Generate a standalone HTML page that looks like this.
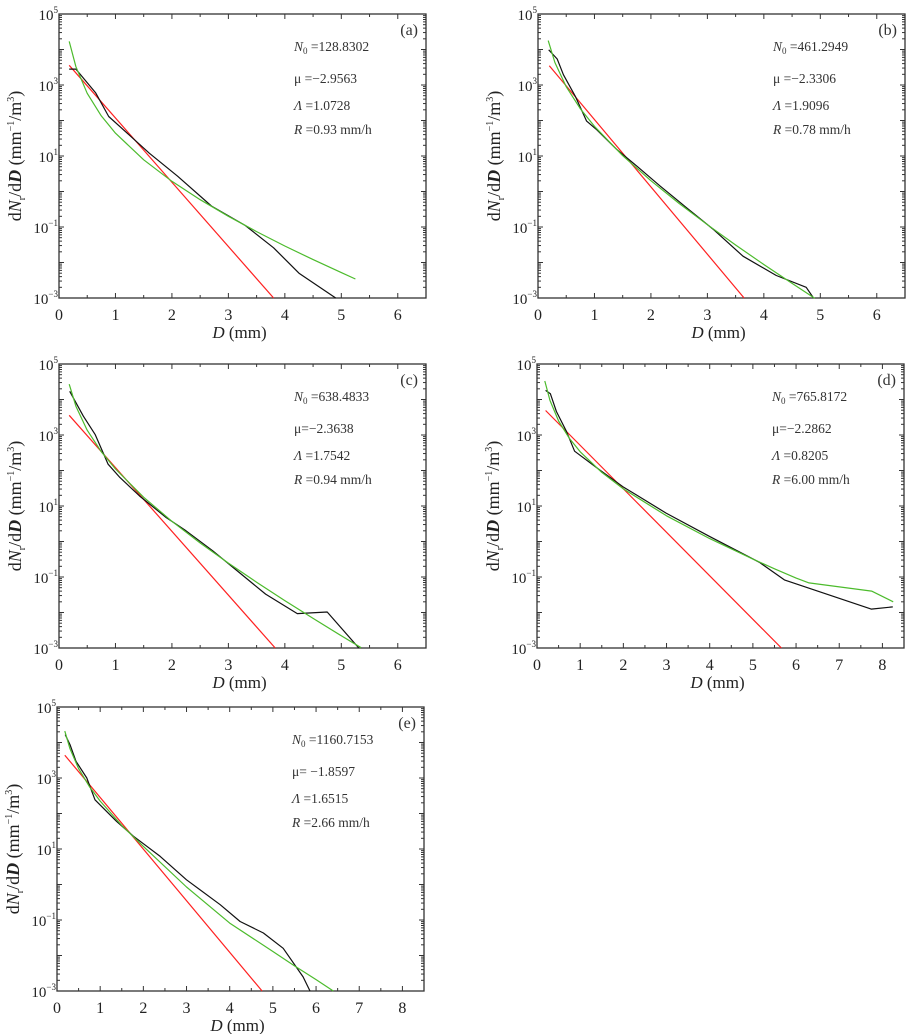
<!DOCTYPE html>
<html><head><meta charset="utf-8"><style>
html,body{margin:0;padding:0;background:#fff;}
svg{display:block;font-family:"Liberation Serif",serif;}
</style></head><body>
<svg id="fig" width="916" height="1034" viewBox="0 0 916 1034" xmlns="http://www.w3.org/2000/svg"></svg>
<script>
// ---- data (panel a) ----
const aObsD=[0.18,0.3,0.65,0.88,1.2,1.6,2.1,2.7,3.3,3.8,4.25,4.9];
const aObsV=[2800,2800,600,130,45,12,2.7,0.39,0.11,0.026,0.005,0.001];
const aGamD=[0.18,0.3,0.5,0.75,1,1.5,2,2.5,3,3.5,4,4.5,5,5.25];
const aGamV=[16900,3280,585,135,44,7.8,1.94,0.586,0.2,0.0743,0.0292,0.0121,0.00518,0.00344];
const aExpD=[0.18,3.8];
const aExpV=[3600,0.001];
// ---- panel b ----
const bObsD=[0.19,0.34,0.45,0.66,0.86,1.04,1.39,1.75,2.16,2.63,3.1,3.63,4.22,4.75,4.88];
const bObsV=[9800,5400,1950,480,96,55,15.5,5.2,1.44,0.35,0.087,0.015,0.0043,0.002,0.001];
const bGamD=[0.18,0.3,0.5,0.75,1,1.5,2,2.5,3,3.5,4,4.5,4.9];
const bGamV=[17800,4300,893,215,68.4,10.2,2.01,0.46,0.116,0.0311,0.00879,0.00257,0.00098];
const bExpD=[0.2,3.65];
const bExpV=[3500,0.001];
// ---- panel c ----
const cObsD=[0.19,0.43,0.64,0.87,1.08,1.43,1.9,2.25,2.72,3.19,3.66,4.22,4.75,5.31];
const cObsV=[17000,3400,1040,150,63,19,4.7,2.0,0.55,0.135,0.033,0.0093,0.0103,0.001];
const cGamD=[0.18,0.3,0.5,0.75,1,1.5,2,2.5,3,3.5,4,4.5,5,5.35];
const cGamV=[26900,6490,1365,338,110,17.6,3.71,0.91,0.247,0.0713,0.0216,0.0068,0.0022,0.00102];
const cExpD=[0.18,3.83];
const cExpV=[3600,0.001];
// ---- panel d ----
const dObsD=[0.2,0.31,0.45,0.68,0.87,1.45,1.99,2.99,3.99,5.15,5.73,7.74,8.24];
const dObsV=[18000,14500,4600,1270,350,104,35,6.3,1.4,0.26,0.083,0.0125,0.0144];
const dGamD=[0.18,0.3,0.5,0.75,1,1.5,2,3,4,5,5.5,6,6.3,7.75,8.25];
const dGamV=[33300,9400,2480,800,337,88.5,30.4,5.3,1.21,0.319,0.17,0.093,0.068,0.04,0.02];
const dExpD=[0.2,5.66];
const dExpV=[4900,0.001];
// ---- panel e ----
const eObsD=[0.19,0.3,0.44,0.69,0.88,1.38,1.77,2.39,3.0,3.78,4.24,4.78,5.24,5.7,5.86];
const eObsV=[16700,8700,2950,1000,243,60,23,6.2,1.36,0.27,0.091,0.043,0.016,0.0025,0.001];
const eGamD=[0.18,0.3,0.5,0.75,1,1.5,2,3,4,5,5.5,6,6.4];
const eGamV=[21000,6640,1845,574,223,46,11.8,0.85,0.082,0.013,0.0051,0.0021,0.001];
const eExpD=[0.18,4.75];
const eExpV=[4400,0.001];
const xTicksA=[0,1,2,3,4,5,6];
const xTicksB=[0,1,2,3,4,5,6,7,8];
const yTickExp=[5,3,1,-1,-3];

const NS="http://www.w3.org/2000/svg";
const svg=document.getElementById('fig');
function mk(tag,attrs,parent){const e=document.createElementNS(NS,tag);for(const k in attrs)e.setAttribute(k,attrs[k]);(parent||svg).appendChild(e);return e;}

const panels=[
 {id:'a',x0:59,y0:14,xMax:6.5,ticks:xTicksA,obsD:aObsD,obsV:aObsV,gamD:aGamD,gamV:aGamV,expD:aExpD,expV:aExpV,
  t:['=128.8302','μ =−2.9563','=1.0728','=0.93  mm/h']},
 {id:'b',x0:538,y0:14,xMax:6.5,ticks:xTicksA,obsD:bObsD,obsV:bObsV,gamD:bGamD,gamV:bGamV,expD:bExpD,expV:bExpV,
  t:['=461.2949','μ =−2.3306','=1.9096','=0.78  mm/h']},
 {id:'c',x0:59,y0:364,xMax:6.5,ticks:xTicksA,obsD:cObsD,obsV:cObsV,gamD:cGamD,gamV:cGamV,expD:cExpD,expV:cExpV,
  t:['=638.4833','μ=−2.3638','=1.7542','=0.94 mm/h']},
 {id:'d',x0:537,y0:364,xMax:8.5,ticks:xTicksB,obsD:dObsD,obsV:dObsV,gamD:dGamD,gamV:dGamV,expD:dExpD,expV:dExpV,
  t:['=765.8172','μ=−2.2862','=0.8205','=6.00 mm/h']},
 {id:'e',x0:57,y0:707,xMax:8.5,ticks:xTicksB,obsD:eObsD,obsV:eObsV,gamD:eGamD,gamV:eGamV,expD:eExpD,expV:eExpV,
  t:['=1160.7153','μ= −1.8597','=1.6515','=2.66  mm/h']}
];
const W=367,H=284;

panels.forEach(p=>{
  const g=mk('g',{});
  
  
  const sx=d=>p.x0+d/p.xMax*W;
  const sy=v=>p.y0+H-(Math.log10(v)+3)/8*H;
  const tk=mk('g',{stroke:'#333','stroke-width':1},g);
  
  
  for(let d=0;d<=p.xMax+1e-9;d+=0.5){
    const L=(Math.abs(d-Math.round(d))<1e-9)?5:3;
    const x=sx(d);
    mk('line',{x1:x,y1:p.y0+H,x2:x,y2:p.y0+H-L},tk);
    mk('line',{x1:x,y1:p.y0,x2:x,y2:p.y0+L},tk);
  }
  for(let e=-3;e<5;e++){
    for(let m=1;m<10;m++){
      const y=sy(m*Math.pow(10,e));
      const L=m===1?5:3;
      mk('line',{x1:p.x0,y1:y,x2:p.x0+L,y2:y},tk);
      mk('line',{x1:p.x0+W,y1:y,x2:p.x0+W-L,y2:y},tk);
    }
  }
  const fr=mk('rect',{x:p.x0,y:p.y0,width:W,height:H,fill:'none',stroke:'#333','stroke-width':1.3},g);
  
  
  p.ticks.forEach(t=>{
    const tx=mk('text',{x:sx(t),y:p.y0+H+22,'text-anchor':'middle','font-size':16,fill:'#222'},g);
    tx.textContent=t;
    
    
  });
  yTickExp.forEach(e=>{
    const tx=mk('text',{x:p.x0-1,y:sy(Math.pow(10,e))+6,'text-anchor':'end','font-size':15,fill:'#222'},g);
    tx.innerHTML='10<tspan dy="-7" font-size="9">'+(e<0?'−'+(-e):e)+'</tspan>';
    
    
  });
  const xt=mk('text',{x:p.x0+W/2-3,y:p.y0+H+40,'text-anchor':'middle','font-size':17,fill:'#222'},g);
  xt.innerHTML='<tspan font-style="italic">D</tspan> (mm)';
  
  
  const yt=mk('text',{transform:'translate('+(p.x0-38)+','+(p.y0+H/2)+') rotate(-90)','text-anchor':'middle','font-size':18,fill:'#222'},g);
  yt.innerHTML='d<tspan font-style="italic">N</tspan><tspan font-size="10" dy="4">r</tspan><tspan dy="-4">/d</tspan><tspan font-style="italic" font-weight="bold">D</tspan> (mm<tspan font-size="10" dy="-7">−1</tspan><tspan dy="7">/m</tspan><tspan font-size="10" dy="-7">3</tspan><tspan dy="7">)</tspan>';
  
  
  const line=(D,V,col,name)=>{
    const pts=D.map((d,i)=>sx(d).toFixed(1)+','+sy(V[i]).toFixed(1)).join(' ');
    const pl=mk('polyline',{points:pts,fill:'none',stroke:col,'stroke-width':1.2,'stroke-linejoin':'round'},g);
    
    
  };
  line(p.expD,p.expV,'#ff2020','exponential-fit-line-'+p.id);
  line(p.obsD,p.obsV,'#111','observed-dsd-line-'+p.id);
  line(p.gamD,p.gamV,'#4cbb2c','gamma-fit-line-'+p.id);
  const lab=mk('text',{x:p.x0+W-8,y:p.y0+21,'text-anchor':'end','font-size':16,fill:'#333'},g);
  lab.textContent='('+p.id+')';
  
  
  const ax=p.x0+235;
  const t1=mk('text',{x:ax,y:p.y0+37,'font-size':13.5,fill:'#333'},g);
  t1.innerHTML='<tspan font-style="italic">N</tspan><tspan font-size="9" dy="3">0</tspan><tspan dy="-3"> '+p.t[0]+'</tspan>';
  
  
  const t2=mk('text',{x:ax,y:p.y0+69,'font-size':13.5,fill:'#333'},g);
  t2.textContent=p.t[1];
  
  
  const t3=mk('text',{x:ax,y:p.y0+96,'font-size':13.5,fill:'#333'},g);
  t3.innerHTML='<tspan font-style="italic">Λ</tspan> '+p.t[2];
  
  
  const t4=mk('text',{x:ax,y:p.y0+120,'font-size':13.5,fill:'#333'},g);
  t4.innerHTML='<tspan font-style="italic">R</tspan> '+p.t[3];
  
  
});
</script>
</body></html>
